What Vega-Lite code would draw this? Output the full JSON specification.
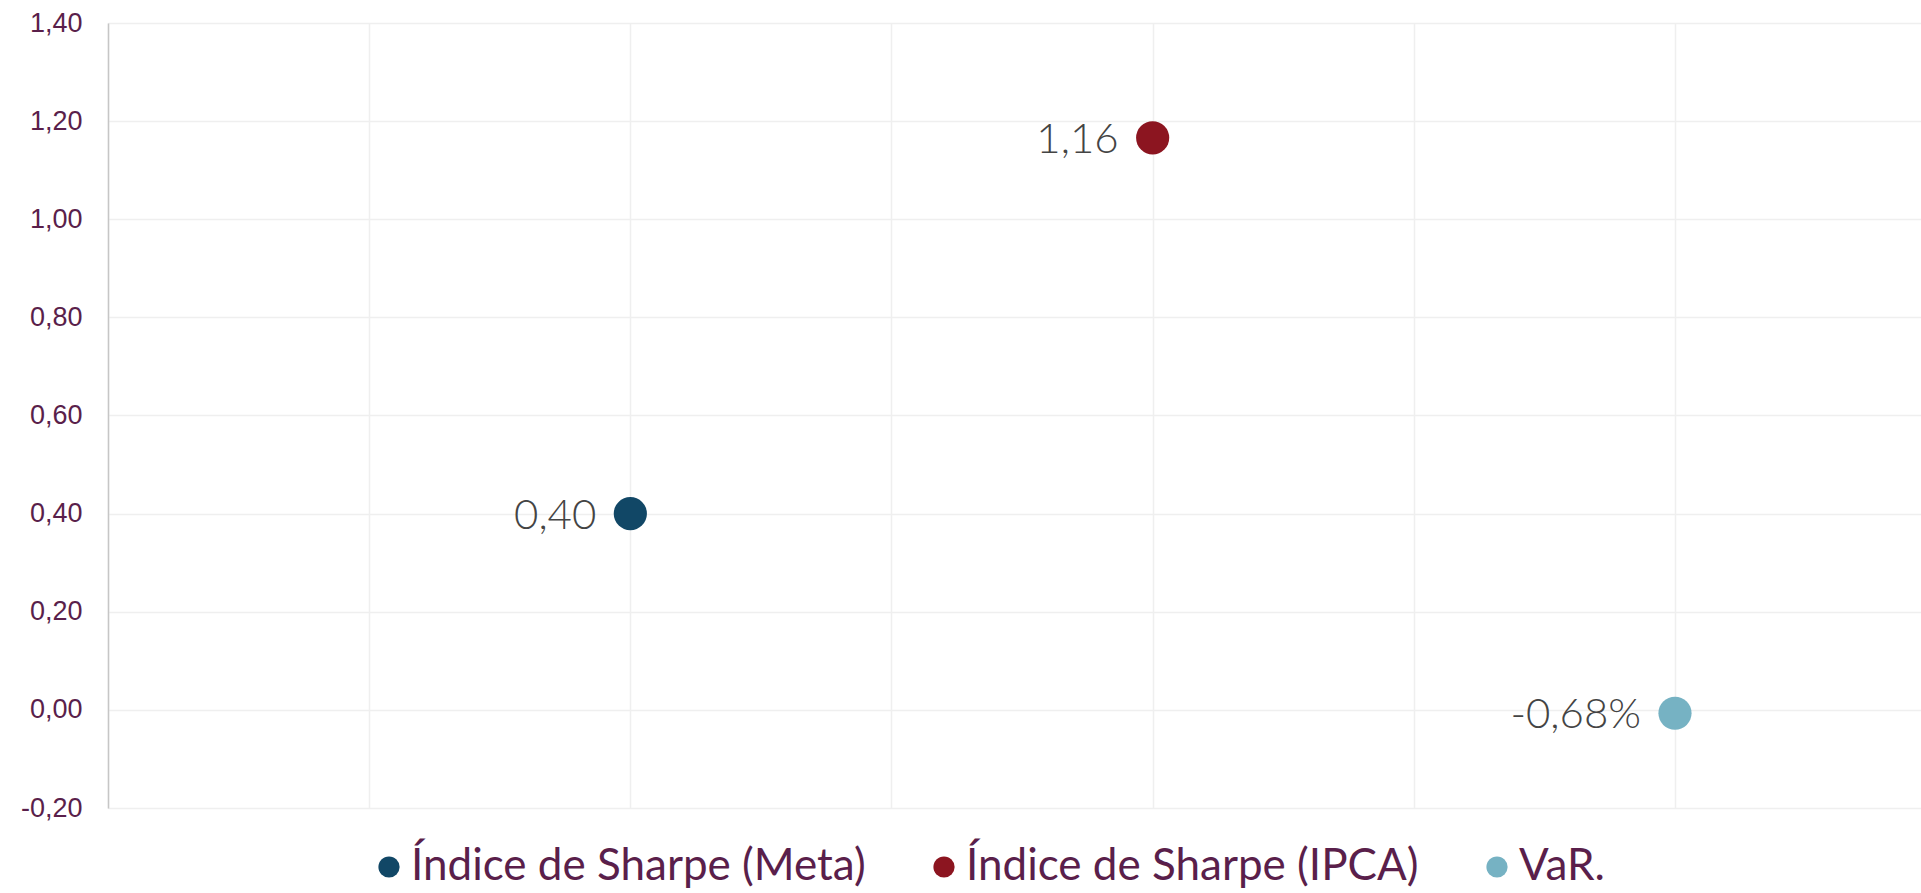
{
  "$schema": "https://vega.github.io/schema/vega-lite/v6.json",
  "autosize": {"type": "none"},
  "width": 1813,
  "height": 785,
  "padding": {"left": 108, "top": 23, "right": 0, "bottom": 85},
  "background": "#ffffff",
  "config": {
    "view": {"stroke": null},
    "locale": {"number": {"decimal": ",", "thousands": ".", "grouping": [3], "currency": ["R$", ""], "minus": "-"}}
  },
  "data": {
    "values": [
      {"serie": "Índice de Sharpe (Meta)", "x": 1, "valor": 0.40, "rotulo": "0,40"},
      {"serie": "Índice de Sharpe (IPCA)", "x": 2, "valor": 1.166, "rotulo": "1,16"},
      {"serie": "VaR.", "x": 3, "valor": -0.0068, "rotulo": "-0,68%"}
    ]
  },
  "encoding": {
    "x": {
      "field": "x", "type": "quantitative",
      "scale": {"domain": [0, 3.471], "nice": false, "zero": false},
      "axis": {"values": [0, 0.5, 1, 1.5, 2, 2.5, 3], "labels": false, "ticks": false, "domain": false, "grid": true, "gridColor": "#efefef", "gridWidth": 1.5, "title": null}
    },
    "y": {
      "field": "valor", "type": "quantitative",
      "scale": {"domain": [-0.2, 1.4], "nice": false, "zero": false},
      "axis": {"values": [-0.2, 0, 0.2, 0.4, 0.6, 0.8, 1.0, 1.2, 1.4], "format": ".2f", "title": null, "ticks": false, "labelPadding": 26, "labelFont": "Liberation Sans", "labelFontSize": 27, "labelColor": "#5a1f4b", "domainColor": "#c6c6c6", "domainWidth": 1.5, "gridColor": "#efefef", "gridWidth": 1.5}
    }
  },
  "layer": [
    {
      "mark": {"type": "point", "filled": true, "shape": "circle", "size": 1100, "opacity": 1, "strokeWidth": 0},
      "encoding": {
        "color": {
          "field": "serie", "type": "nominal",
          "scale": {"domain": ["Índice de Sharpe (Meta)", "Índice de Sharpe (IPCA)", "VaR."], "range": ["#114766", "#8c1520", "#76b2c3"]},
          "legend": {
            "title": null, "orient": "none", "direction": "horizontal",
            "legendX": 259, "legendY": 822,
            "symbolType": "circle", "symbolSize": 450, "symbolStrokeWidth": 0, "symbolOpacity": 1,
            "labelFont": "Lato", "labelFontSize": 44, "labelColor": "#5a1f4b",
            "labelOffset": 0, "columnPadding": 56, "labelLimit": 0, "padding": 0
          }
        }
      }
    },
    {
      "mark": {"type": "text", "align": "right", "baseline": "middle", "dx": -34, "dy": 2, "fontSize": 42, "font": "Lato", "fontWeight": 300, "color": "#444444"},
      "encoding": {"text": {"field": "rotulo"}}
    }
  ]
}
